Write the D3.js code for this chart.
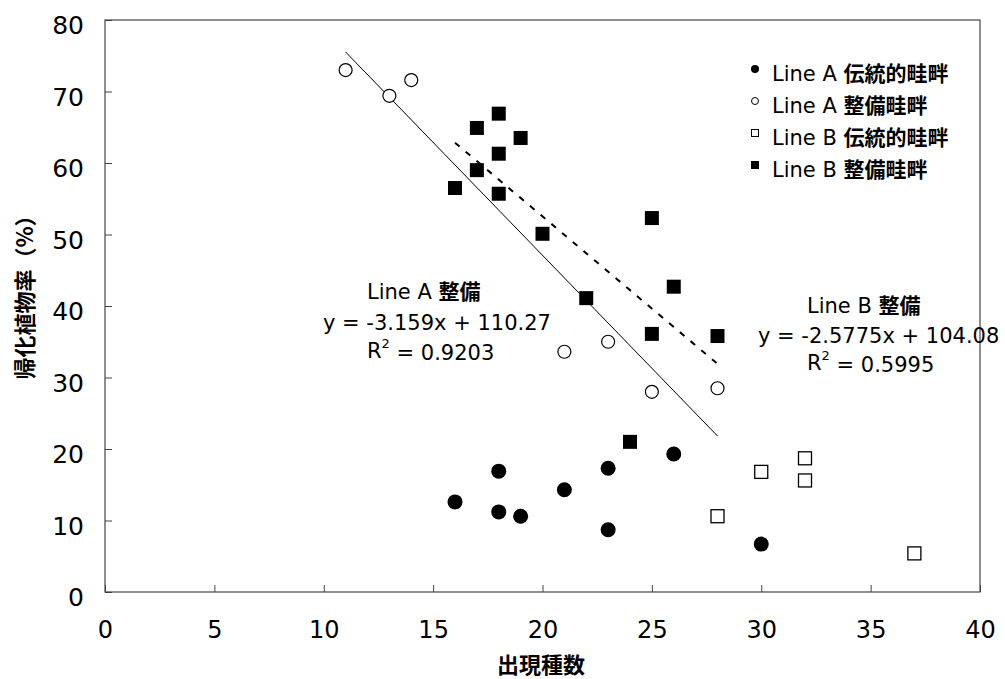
<!DOCTYPE html>
<html>
<head>
<meta charset="utf-8">
<script src="https://cdn.jsdelivr.net/npm/d3@7"></script>
<style>
  body { margin: 0; background: #fff; }
  svg { display: block; }
</style>
</head>
<body>
<svg id="chart" width="1005" height="679"></svg>
<script>
// Axis ticks
var xTicks = [0, 5, 10, 15, 20, 25, 30, 35, 40];
var yTicks = [0, 10, 20, 30, 40, 50, 60, 70, 80];

// Line A traditional levees (filled circles)
var aTradX = [16, 18, 18, 19, 21, 23, 23, 26, 30];
var aTradY = [12.6, 16.9, 11.2, 10.6, 14.3, 17.3, 8.7, 19.3, 6.7];

// Line A improved levees (open circles)
var aImpX = [11, 13, 14, 21, 23, 25, 28];
var aImpY = [73.0, 69.4, 71.6, 33.6, 35.0, 28.0, 28.5];

// Line B traditional levees (open squares)
var bTradX = [28, 30, 32, 32, 37];
var bTradY = [10.6, 16.8, 18.7, 15.6, 5.4];

// Line B improved levees (filled squares)
var bImpX = [16, 17, 17, 18, 18, 18, 19, 20, 22, 24, 25, 25, 26, 28];
var bImpY = [56.5, 59.0, 64.9, 66.9, 61.3, 55.7, 63.5, 50.1, 41.1, 21.0, 52.3, 36.1, 42.7, 35.8];

// Regression lines: Line A 整備 and Line B 整備
var trendSlope = [-3.159, -2.5775];
var trendIntercept = [110.27, 104.08];
var trendFrom = [11, 16];
var trendTo = [28, 28];

var legendLabels = ["Line A 伝統的畦畔", "Line A 整備畦畔", "Line B 伝統的畦畔", "Line B 整備畦畔"];

var font = "'DejaVu Sans', 'Noto Sans CJK JP', sans-serif";
var svg = d3.select("#chart");

// Scales
var x = d3.scaleLinear().domain([0, 40]).range([105, 980]);
var y = d3.scaleLinear().domain([0, 80]).range([592, 20]);

function zip(xs, ys) {
    return xs.map(function(v, i) { return { x: v, y: ys[i] }; });
}

// Writes text with CJK runs in bold, like the original
function richText(sel, str) {
    var parts = str.match(/[\u3000-\u9fff\uff00-\uffef]+|[^\u3000-\u9fff\uff00-\uffef]+/g);
    parts.forEach(function(p) {
        sel.append("tspan")
            .attr("font-weight", /[\u3000-\u9fff]/.test(p) ? "bold" : "normal")
            .text(p);
    });
}

// X axis (inward ticks)
var xAxis = svg.append("g")
    .attr("transform", "translate(0," + y(0) + ")")
    .call(d3.axisBottom(x).tickValues(xTicks).tickSizeInner(-7).tickSizeOuter(0).tickPadding(29));
xAxis.select(".domain").remove();
xAxis.selectAll("line").attr("stroke", "#444");
xAxis.selectAll("text").attr("font-family", font).attr("font-size", 24).attr("fill", "#000");

// Y axis (inward ticks)
var yAxis = svg.append("g")
    .attr("transform", "translate(" + x(0) + ",0)")
    .call(d3.axisLeft(y).tickValues(yTicks).tickSizeInner(-7).tickSizeOuter(0).tickPadding(21));
yAxis.select(".domain").remove();
yAxis.selectAll("line").attr("stroke", "#444");
yAxis.selectAll("text").attr("font-family", font).attr("font-size", 25).attr("fill", "#000").attr("dy", "0.55em");

// Plot frame
svg.append("rect")
    .attr("x", x(0)).attr("y", y(80))
    .attr("width", x(40) - x(0)).attr("height", y(0) - y(80))
    .attr("fill", "none").attr("stroke", "#444").attr("stroke-width", 1.2);

// Axis titles
svg.append("text")
    .attr("x", 541).attr("y", 673)
    .attr("text-anchor", "middle")
    .attr("font-family", "'Noto Sans CJK JP', sans-serif")
    .attr("font-size", 22).attr("font-weight", "bold")
    .text("出現種数");

svg.append("text")
    .attr("transform", "translate(33,292) rotate(-90)")
    .attr("text-anchor", "middle")
    .attr("font-family", "'Noto Sans CJK JP', sans-serif")
    .attr("font-size", 22).attr("font-weight", "bold")
    .text("帰化植物率（%）");

// Trend lines
var trendStyles = [
    { width: 1, dash: null },
    { width: 2, dash: "6,8" }
];
trendSlope.forEach(function(m, i) {
    var b = trendIntercept[i];
    svg.append("line")
        .attr("x1", x(trendFrom[i])).attr("y1", y(m * trendFrom[i] + b))
        .attr("x2", x(trendTo[i])).attr("y2", y(m * trendTo[i] + b))
        .attr("stroke", "#000")
        .attr("stroke-width", trendStyles[i].width)
        .attr("stroke-dasharray", trendStyles[i].dash);
});

// Points
svg.append("g").selectAll("circle")
    .data(zip(aTradX, aTradY)).enter().append("circle")
    .attr("cx", function(d) { return x(d.x); })
    .attr("cy", function(d) { return y(d.y); })
    .attr("r", 7.5).attr("fill", "#000");

svg.append("g").selectAll("circle")
    .data(zip(aImpX, aImpY)).enter().append("circle")
    .attr("cx", function(d) { return x(d.x); })
    .attr("cy", function(d) { return y(d.y); })
    .attr("r", 6.5).attr("fill", "#fff").attr("stroke", "#000").attr("stroke-width", 1.2);

svg.append("g").selectAll("rect")
    .data(zip(bTradX, bTradY)).enter().append("rect")
    .attr("x", function(d) { return x(d.x) - 6.5; })
    .attr("y", function(d) { return y(d.y) - 6.5; })
    .attr("width", 13).attr("height", 13)
    .attr("fill", "#fff").attr("stroke", "#000").attr("stroke-width", 1.3);

svg.append("g").selectAll("rect")
    .data(zip(bImpX, bImpY)).enter().append("rect")
    .attr("x", function(d) { return x(d.x) - 7; })
    .attr("y", function(d) { return y(d.y) - 7; })
    .attr("width", 14).attr("height", 14)
    .attr("fill", "#000");

// Legend
var legend = svg.append("g").attr("transform", "translate(755,0)");
var legendY = [73, 105, 137, 169];
legendLabels.forEach(function(label, i) {
    var my = legendY[i] - 4;
    if (i === 0) legend.append("circle").attr("cx", 0).attr("cy", my).attr("r", 4).attr("fill", "#000");
    if (i === 1) legend.append("circle").attr("cx", 0).attr("cy", my).attr("r", 3.5).attr("fill", "#fff").attr("stroke", "#000");
    if (i === 2) legend.append("rect").attr("x", -3.5).attr("y", my - 3.5).attr("width", 7).attr("height", 7).attr("fill", "#fff").attr("stroke", "#000");
    if (i === 3) legend.append("rect").attr("x", -4).attr("y", my - 4).attr("width", 8).attr("height", 8).attr("fill", "#000");
    var t = legend.append("text")
        .attr("x", 17).attr("y", legendY[i]).attr("dy", "0.36em")
        .attr("font-family", font).attr("font-size", 21);
    richText(t, label);
});

// Regression labels
var eqLabels = [
    { x: 367, y: 291, name: "Line A 整備", ex: 323, eq: "y = -3.159x + 110.27", r2: "0.9203", ry: 350 },
    { x: 807, y: 305, name: "Line B 整備", ex: 758, eq: "y = -2.5775x + 104.08", r2: "0.5995", ry: 362 }
];
eqLabels.forEach(function(e) {
    var t1 = svg.append("text").attr("x", e.x).attr("y", e.y).attr("dy", "0.36em")
        .attr("font-family", font).attr("font-size", 21);
    richText(t1, e.name);
    svg.append("text").attr("x", e.ex).attr("y", (e.y + e.ry) / 2 + 2).attr("dy", "0.36em")
        .attr("font-family", font).attr("font-size", 21).text(e.eq);
    var t3 = svg.append("text").attr("x", e.x).attr("y", e.ry).attr("dy", "0.36em")
        .attr("font-family", font).attr("font-size", 21);
    t3.append("tspan").text("R");
    t3.append("tspan").attr("font-size", 13).attr("dy", "-0.75em").text("2");
    t3.append("tspan").attr("dy", "0.6em").text(" = " + e.r2);
});
</script>
</body>
</html>
